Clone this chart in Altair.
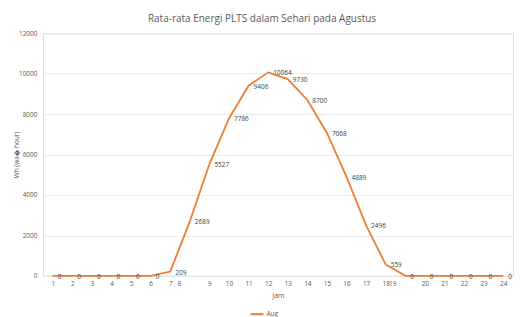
import altair as alt
import pandas as pd

jam = list(range(1, 25))
energi = [0, 0, 0, 0, 0, 0, 209, 2689, 5527, 7786, 9406, 10064,
          9730, 8700, 7068, 4889, 2496, 559, 0, 0, 0, 0, 0, 0]
seri = ["Aug"] * 24
y_ticks = [0, 2000, 4000, 6000, 8000, 10000, 12000]

df = pd.DataFrame({"Jam": jam, "Wh": energi, "Seri": seri})

FONT = "Open Sans"
GRAY = "#595959"

x_enc = alt.X(
    "Jam:Q",
    scale=alt.Scale(domain=[0.5, 24.5], nice=False, zero=False),
    axis=alt.Axis(
        values=jam, title="Jam", grid=False, ticks=False, domain=False,
        format="d", labelOverlap=False, labelFlush=False, labelBound=False,
        labelFont=FONT, labelFontSize=6.5, labelColor=GRAY, labelPadding=5,
        labelOffset={"condition": [{"test": "datum.value == 8", "value": -11},
                                   {"test": "datum.value == 19", "value": -13}],
                     "value": 0},
        titleFont=FONT, titleFontSize=7, titleColor=GRAY, titleFontWeight="normal",
        titleY=20, titleBaseline="middle",
    ),
)
y_enc = alt.Y(
    "Wh:Q",
    scale=alt.Scale(domain=[0, 12000], nice=False),
    axis=alt.Axis(
        values=y_ticks, title="Wh (wa\ufffd hour)", grid=True, gridColor="#e6e6e6",
        gridWidth=0.8, ticks=False, domain=False, format="d", labelOverlap=False,
        labelFont=FONT, labelFontSize=6.5, labelColor=GRAY, labelPadding=6,
        titleFont=FONT, titleFontSize=6.5, titleColor=GRAY, titleFontWeight="normal",
        titleX=-26, titleBaseline="middle",
    ),
)

line = alt.Chart(df).mark_line(strokeWidth=1.8).encode(
    x=x_enc,
    y=y_enc,
    color=alt.Color(
        "Seri:N",
        scale=alt.Scale(domain=["Aug"], range=["#ED7D31"]),
        legend=alt.Legend(
            title=None, orient="none", legendX=207, legendY=274,
            symbolType="stroke", symbolSize=169, symbolStrokeWidth=2,
            labelFont=FONT, labelFontSize=6.5, labelColor=GRAY, labelOffset=2,
            padding=0,
        ),
    ),
)

labels = alt.Chart(df).mark_text(
    align="left", baseline="middle", dx=5, dy=1,
    font=FONT, fontSize=6.5, color="#404040",
).encode(x=x_enc, y=y_enc, text=alt.Text("Wh:Q", format="d"))

chart = (line + labels).properties(
    width=471, height=243,
    title=alt.TitleParams(
        "Rata-rata Energi PLTS dalam Sehari pada Agustus",
        font=FONT, fontSize=10, color=GRAY, fontWeight="normal",
        anchor="middle", frame="group", dx=-16, offset=6,
    ),
    autosize=alt.AutoSizeParams(type="none"),
    padding={"left": 35, "top": 25, "right": 4, "bottom": 41},
).configure_view(stroke=None).configure(background="white")

chart.save("out.html", embed_options={"renderer": "svg", "actions": False})
